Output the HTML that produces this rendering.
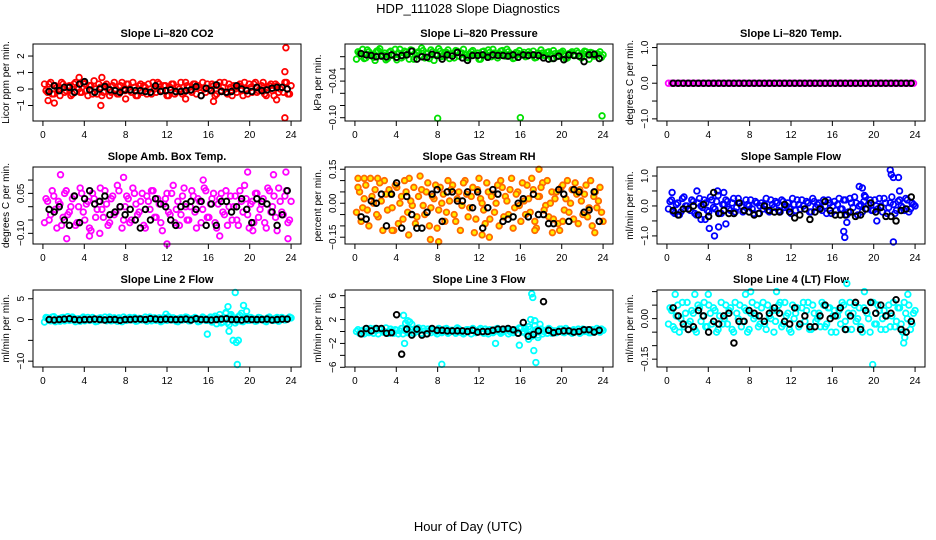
<!DOCTYPE html>
<html><head><meta charset="utf-8"><style>
body{margin:0;background:#fff;}
svg{display:block;font-family:"Liberation Sans",Arial,sans-serif;}
</style></head><body>
<svg id="chart" width="936" height="540" viewBox="0 0 936 540">
<text x="468" y="13" text-anchor="middle" font-size="13">HDP_111028  Slope Diagnostics</text>
<text x="468" y="531" text-anchor="middle" font-size="13">Hour of Day (UTC)</text>
</svg>
<script>
// ---- data ----
const co2Vals=[0.3,-0.2,0.4,-0.3,0.1,-0.4,0.3,-0.1,0.2,-0.3,0.4,0.0,-0.2,0.3,-0.4,0.2,0.5,-0.3,0.1,-0.2,0.3,-0.4,0.2,0.0,-0.3,0.4,-0.1,0.3,-0.2,0.1,-0.4,0.3,0.2,-0.3,0.0,0.4,-0.2,0.3,-0.1,0.2,-0.4,0.3,-0.3,0.1,0.4,-0.2,0.2,-0.1,0.3,-0.3,0.1,0.4,-0.2,0.0,0.3,-0.4,0.2,-0.1,0.4,-0.3,0.1,0.2,-0.2,0.3,-0.4,0.0,0.3,-0.2,0.4,-0.1,0.2,-0.3,0.1,0.3,-0.4,0.2,0.0,-0.2,0.4,-0.3];
const co2ValsB=[-0.1,0.3,-0.3,0.2,0.0,0.4,-0.2,0.1,-0.4,0.3,0.1,-0.2,0.4,-0.1,0.2,-0.3,0.0,0.3,-0.4,0.2,0.1,-0.2,0.4,-0.3,0.2,0.0,0.3,-0.1,0.4,-0.4,0.2,-0.2,0.1,0.3,-0.3,0.0,0.4,-0.1,0.2,-0.4,0.1,0.3,-0.2,0.0,-0.3,0.4,0.1,-0.2,0.3,0.2,-0.4,0.0,0.3,-0.1,0.2,-0.3,0.4,0.1,-0.2,0.3,-0.4,0.0,0.2,-0.1,0.4,-0.3,0.1,0.3,-0.2,0.0,0.4,-0.4,0.2,-0.1,0.3,-0.2,0.1,0.4,-0.3,0.2];
const co2OutX=[0.5,1.1,3.5,5.6,5.7,8.0,13.8,16.5,22.6,23.4,23.5,23.4];
const co2OutY=[-0.7,-0.85,0.7,-1.0,0.7,-0.6,-0.6,-0.75,-0.65,1.05,2.5,-1.75];
const co2Black=[-0.15,0.2,-0.1,0.1,0.1,-0.2,0.3,0.45,-0.05,-0.2,0.0,0.15,-0.05,-0.1,-0.2,-0.05,-0.05,-0.1,-0.1,-0.15,-0.2,0.2,-0.15,-0.1,-0.05,-0.15,-0.15,-0.1,-0.05,0.15,-0.4,0.05,-0.1,0.25,-0.15,-0.2,-0.15,0.2,0.0,-0.1,-0.15,0.1,-0.1,-0.05,0.05,0.1,0.1,0.0];

const presVals=[-0.004,0.006,0.012,-0.002,0.008,0.004,-0.006,0.01,0.002,0.006,-0.003,0.009,0.004,-0.005,0.012,0.001,0.007,-0.004,0.01,0.003,0.008,0.014,-0.002,0.006,0.011,-0.006,0.004,0.009,0.002,0.007,-0.003,0.005,0.01,0.001,0.006,0.003,-0.002,0.008,0.004,0.006,-0.004,0.009,0.002,0.007,0.012,0.003,0.005,0.01,0.001,0.008,0.004,-0.002,0.006,0.003,0.007,0.001,0.005,0.009,-0.001,0.004,0.006,0.002,0.008,-0.003,0.005,0.001,0.007,0.004,-0.002,0.006,0.003,0.009,0.001,0.005,0.008,-0.004,0.006,0.002,0.004,-0.001];
const presValsB=[0.008,0.001,-0.003,0.011,0.005,-0.001,0.009,0.013,0.003,-0.005,0.007,0.002,0.012,0.006,-0.002,0.009,0.004,0.011,-0.004,0.006,0.002,0.01,0.005,-0.003,0.008,0.003,0.013,0.0,0.007,0.011,0.004,-0.002,0.009,0.006,0.012,-0.001,0.005,0.01,0.003,-0.004,0.008,0.004,0.011,0.0,0.006,-0.002,0.009,0.005,0.012,0.002,-0.003,0.007,0.01,0.004,0.0,0.008,0.003,-0.002,0.006,0.011,0.002,0.007,0.004,0.01,0.0,0.006,0.009,-0.003,0.005,0.008,0.002,0.006,-0.002,0.009,0.004,0.007,0.001,0.005,0.008,0.003];
const presOutX=[8.0,16.0,23.9];
const presOutY=[-0.101,-0.100,-0.097];
const presBlack=[0.005,0.003,0.002,0.0,0.001,0.0,0.003,-0.001,0.002,0.003,0.009,-0.004,0.0,-0.001,0.004,0.002,-0.004,0.003,0.001,0.007,-0.002,-0.006,0.002,0.002,0.003,-0.001,0.003,0.002,0.002,0.001,0.003,-0.001,0.003,0.002,0.003,0.002,-0.002,-0.004,-0.003,0.001,-0.005,0.003,0.002,0.001,-0.008,0.003,0.004,-0.003];

const tempVals=[0,0,0,0,0,0,0,0,0,0,0,0,0,0,0,0,0,0,0,0,0,0,0,0,0,0,0,0,0,0,0,0,0,0,0,0,0,0,0,0,0,0,0,0,0,0,0,0,0,0,0,0,0,0,0,0,0,0,0,0,0,0,0,0,0,0,0,0,0,0,0,0,0,0,0,0,0,0,0,0];
const tempValsB=[];
const tempOutX=[];
const tempOutY=[];
const tempBlack=[0,0,0,0,0,0,0,0,0,0,0,0,0,0,0,0,0,0,0,0,0,0,0,0,0,0,0,0,0,0,0,0,0,0,0,0,0,0,0,0,0,0,0,0,0,0,0,0];

const ambVals=[-0.06,0.02,-0.03,0.04,-0.08,0.01,-0.04,0.06,-0.02,0.03,-0.07,0.0,0.05,-0.05,0.02,-0.09,0.03,-0.01,0.07,-0.04,0.01,-0.06,0.04,-0.02,0.06,-0.08,0.0,0.03,-0.05,0.05,-0.03,0.02,-0.07,0.04,-0.01,0.06,-0.04,0.01,-0.09,0.03,-0.02,0.05,-0.06,0.02,-0.03,0.07,-0.05,0.0,0.04,-0.08,0.02,-0.01,0.06,-0.04,0.03,-0.06,0.01,0.05,-0.03,-0.07,0.04,0.0,-0.05,0.06,-0.02,0.03,-0.08,0.02,0.05,-0.04,0.01,-0.06,0.07,-0.02,0.04,-0.09,0.02,-0.03,0.06,-0.05];
const ambValsB=[0.03,-0.05,0.06,-0.01,0.02,-0.07,0.05,-0.03,0.0,0.04,-0.06,0.07,-0.02,0.01,-0.08,0.05,-0.04,0.02,-0.01,0.06,-0.07,0.03,-0.03,0.08,0.0,-0.05,0.04,-0.06,0.07,0.01,-0.02,0.05,-0.08,0.02,0.06,-0.04,0.03,-0.06,0.01,0.05,-0.03,0.08,-0.01,-0.07,0.04,0.0,-0.05,0.06,-0.02,0.03,-0.06,0.07,-0.04,0.01,0.05,-0.08,0.03,-0.02,0.06,0.0,-0.05,0.04,-0.07,0.02,0.08,-0.03,0.01,-0.06,0.05,-0.01,0.03,-0.08,0.06,0.0,-0.04,0.07,-0.02,0.04,-0.06,0.02];
const ambOutX=[1.7,2.3,4.5,5.5,7.8,12.0,15.5,17.1,19.8,20.3,22.3,23.5,23.7];
const ambOutY=[0.12,-0.12,-0.11,-0.1,0.11,-0.14,0.1,-0.11,0.13,-0.09,0.12,0.13,-0.12];
const ambBlack=[-0.01,-0.02,0.0,-0.05,-0.07,0.04,-0.06,0.03,0.06,0.01,0.02,0.04,-0.03,-0.02,0.0,-0.03,-0.01,-0.05,-0.08,-0.01,-0.05,0.03,0.01,0.0,-0.05,-0.07,0.0,0.01,0.02,-0.01,0.02,-0.07,0.01,-0.07,0.02,0.02,-0.02,0.0,0.03,-0.01,-0.06,0.03,0.02,0.01,-0.02,-0.07,-0.03,0.06];

const rhVals=[-0.04,0.05,-0.02,0.08,-0.1,0.03,0.06,-0.06,0.01,0.1,-0.03,0.04,-0.12,0.07,0.0,-0.07,0.05,0.11,-0.01,-0.09,0.03,0.06,-0.05,0.09,-0.02,0.02,-0.11,0.07,0.04,-0.04,0.01,0.08,-0.08,0.05,-0.01,0.1,-0.06,0.03,-0.13,0.06,0.02,-0.03,0.09,-0.07,0.04,0.0,-0.1,0.07,0.03,-0.05,0.11,-0.02,0.05,-0.08,0.01,0.08,-0.04,0.06,-0.11,0.03,0.09,-0.01,-0.06,0.05,0.02,-0.09,0.07,-0.03,0.1,0.0,-0.07,0.04,0.06,-0.05,0.08,-0.02,-0.1,0.05,0.01,-0.04];
const rhValsB=[0.07,-0.08,0.02,-0.03,0.11,0.0,-0.05,0.09,-0.12,0.04,0.06,-0.02,0.08,-0.09,0.03,0.1,-0.04,0.01,0.07,-0.06,0.12,-0.01,0.05,-0.1,0.03,0.08,-0.03,0.0,-0.08,0.1,0.06,-0.05,0.02,-0.12,0.09,0.04,-0.02,0.07,-0.07,0.11,0.0,-0.09,0.05,0.03,-0.04,0.08,0.1,-0.06,0.01,0.06,-0.11,0.04,-0.01,0.09,-0.05,0.02,0.11,-0.08,0.03,0.07,-0.03,0.1,0.0,-0.07,0.05,-0.12,0.08,0.02,-0.04,0.06,0.09,-0.09,0.01,0.04,-0.06,0.1,0.03,-0.02,0.07,-0.08];
const rhOutX=[0.3,0.9,2.2,3.6,5.2,7.3,8.1,13.0,12.3,17.4,17.8,19.1,20.1,23.2];
const rhOutY=[0.11,0.11,0.11,-0.12,-0.14,-0.16,-0.17,-0.15,-0.14,-0.12,0.15,-0.13,-0.08,-0.13];
const rhBlack=[-0.06,-0.07,0.01,0.0,0.04,-0.1,0.04,0.09,-0.11,0.03,-0.05,-0.11,-0.11,-0.04,0.04,0.06,-0.08,0.05,0.05,0.01,0.01,0.05,-0.02,0.05,-0.11,-0.02,0.06,0.04,-0.08,-0.07,-0.06,0.0,0.02,-0.06,0.04,-0.05,-0.05,-0.09,-0.09,0.06,0.04,-0.08,0.06,0.05,-0.04,-0.03,0.05,-0.08];

const sfVals=[-0.1,0.2,-0.25,0.1,-0.2,0.3,0.0,-0.15,0.15,-0.3,0.25,-0.05,0.1,-0.2,0.2,-0.1,0.35,-0.25,0.05,0.15,-0.15,0.25,-0.05,0.1,-0.2,0.2,0.0,-0.1,0.15,-0.25,0.1,0.05,-0.15,0.2,-0.05,0.1,-0.2,0.15,0.0,-0.1,0.25,-0.15,0.05,0.2,-0.1,0.1,-0.2,0.15,0.05,-0.05,0.2,-0.25,0.1,0.0,-0.15,0.25,-0.1,0.2,-0.2,0.1,0.3,-0.3,0.05,0.15,-0.1,0.2,-0.15,0.0,0.25,-0.2,0.1,-0.05,0.3,-0.25,0.15,0.0,-0.15,0.2,-0.1,0.05];
const sfValsB=[0.15,-0.2,0.05,-0.3,0.25,0.0,-0.1,0.2,-0.25,0.1,0.0,0.2,-0.15,0.3,-0.05,0.15,-0.25,0.05,0.2,-0.1,0.1,-0.2,0.25,0.0,-0.15,0.05,0.2,-0.25,0.1,0.0,-0.1,0.25,-0.2,0.05,0.15,-0.15,0.2,-0.05,0.1,-0.25,0.05,0.2,-0.1,0.0,0.15,-0.2,0.25,-0.05,0.1,-0.15,0.0,0.2,-0.25,0.15,0.05,-0.1,0.2,-0.3,0.25,-0.05,0.1,0.0,-0.2,0.3,0.05,-0.15,0.2,-0.1,0.0,0.25,-0.25,0.1,0.05,-0.15,0.2,-0.05,0.25,-0.2,0.1,0.0];
const sfOutX=[0.5,2.9,3.3,3.7,4.1,4.6,4.9,5.0,5.5,5.7,17.1,17.2,17.4,18.6,18.9,19.1,21.6,21.7,21.9,21.9,22.4,22.5,20.3];
const sfOutY=[0.45,0.5,-0.45,-0.45,-0.75,-1.0,0.5,-0.7,0.45,-0.6,-0.85,-1.05,-0.55,0.65,0.6,0.35,1.2,1.05,0.95,-1.2,0.95,0.5,-0.5];
const sfBlack=[-0.15,-0.3,-0.1,-0.1,0.0,-0.3,0.05,-0.35,0.45,-0.25,-0.15,-0.25,-0.25,0.1,-0.15,-0.2,-0.3,-0.25,0.0,-0.15,-0.2,-0.2,0.05,-0.2,-0.4,-0.3,-0.1,-0.45,-0.2,-0.1,0.15,-0.15,-0.3,-0.3,-0.3,-0.2,-0.35,-0.3,-0.1,0.1,-0.2,-0.05,-0.35,-0.35,-0.5,-0.15,-0.1,0.3];

const l2Vals=[-0.6,0.4,-0.3,0.7,0.1,-0.4,0.5,0.0,-0.2,0.6,-0.5,0.2,0.3,-0.3,0.5,-0.1,0.1,-0.4,0.4,0.0,-0.3,0.6,-0.2,0.2,0.4,-0.5,0.1,0.3,-0.1,0.5,-0.3,0.2,0.0,-0.4,0.6,0.1,-0.2,0.4,-0.3,0.3,0.7,-0.1,0.2,-0.5,0.4,0.0,0.5,-0.3,0.1,0.3,-0.4,0.6,-0.2,0.2,-0.6,0.8,0.4,-0.8,0.2,-0.7,0.9,0.1,-0.3,1.0,-0.5,0.6,-0.2,0.3,-0.4,0.5,0.0,-0.3,0.4,0.1,-0.2,0.5,-0.1,0.3,0.0,0.6];
const l2ValsB=[0.5,-0.2,0.6,-0.5,0.2,0.4,-0.3,0.7,-0.1,0.3,0.1,-0.4,0.6,0.0,-0.2,0.5,-0.5,0.3,-0.1,0.6,0.2,-0.3,0.4,-0.4,0.0,0.6,-0.2,0.5,0.1,-0.4,0.3,-0.1,0.6,0.2,-0.3,0.4,0.0,-0.5,0.5,-0.2,0.1,0.4,-0.4,0.3,-0.1,0.6,-0.3,0.2,0.5,-0.5,0.0,0.3,-0.2,0.6,0.4,-1.0,1.2,-0.6,1.5,-1.2,0.5,-0.8,0.7,-0.4,0.3,-0.2,0.5,0.0,-0.3,0.4,0.1,-0.5,0.6,-0.2,0.3,-0.4,0.5,-0.1,0.2,0.4];
const l2OutX=[11.9,15.9,17.7,17.9,18.0,18.2,18.4,18.6,18.7,18.8,18.9,19.2,19.4,19.7];
const l2OutY=[1.3,-3.5,1.7,3.1,-2.8,1.2,-5.0,6.5,-5.5,-10.8,-5.0,1.5,3.4,2.0];
const l2Black=[0.0,-0.1,0.0,0.1,0.2,0.0,-0.1,0.0,0.0,0.1,0.0,-0.1,0.0,0.0,-0.2,0.0,0.0,0.1,0.1,0.0,0.2,0.1,0.0,0.1,0.0,0.0,0.0,0.1,-0.1,0.2,0.0,0.0,-0.1,0.0,0.1,0.2,0.0,0.0,-0.1,0.1,0.0,0.0,0.0,0.1,-0.1,0.0,0.1,0.1];

const l3Vals=[0.0,-0.3,0.2,0.4,-0.2,0.1,0.5,-0.4,0.3,0.0,-0.1,0.4,-0.3,0.2,0.1,-0.4,0.5,0.0,-0.2,0.3,0.6,-0.3,0.1,0.4,-0.2,0.2,-0.4,0.3,0.0,0.5,-0.1,0.2,-0.3,0.4,0.1,-0.2,0.3,-0.4,0.2,0.0,0.5,-0.3,0.1,0.3,-0.2,0.4,0.0,-0.1,0.3,-0.4,0.2,0.1,-0.3,0.5,0.0,-0.6,0.4,-0.2,0.3,0.1,-0.4,0.2,0.5,-0.3,0.1,0.0,0.4,-0.2,0.2,-0.1,0.3,0.0,-0.3,0.4,0.1,-0.2,0.3,0.0,0.2,0.4];
const l3ValsB=[0.3,0.1,-0.4,0.0,0.5,-0.3,0.2,0.4,-0.1,0.6,-0.3,0.1,0.3,-0.4,0.5,0.2,-0.2,0.4,-0.3,0.0,0.2,0.5,-0.4,0.1,0.3,-0.1,0.5,-0.2,0.4,-0.3,0.2,0.0,0.6,-0.1,-0.4,0.3,0.1,0.5,-0.2,0.3,-0.1,0.4,-0.4,0.2,0.0,0.5,-0.3,0.1,0.4,0.0,-0.2,0.3,0.6,-0.1,0.4,0.8,-0.8,1.0,-0.6,0.4,0.0,-0.3,0.3,0.1,-0.2,0.4,-0.1,0.5,0.0,-0.3,0.2,0.4,-0.1,0.0,0.3,-0.2,0.1,0.5,-0.1,0.2];
const l3OutX=[4.7,4.8,4.9,5.1,5.3,5.5,8.4,13.6,15.9,16.5,16.8,17.0,17.1,17.2,17.3,17.4,17.5,17.7,17.9];
const l3OutY=[2.7,-2.0,1.4,1.8,1.6,1.2,-5.5,-2.0,-2.3,0.5,-1.3,2.0,6.3,5.7,-3.2,1.8,-5.2,-1.0,1.2];
const l3Black=[-0.4,0.5,0.1,0.5,0.5,-0.3,-0.2,2.8,-3.8,0.4,-0.6,0.4,-0.6,-0.4,0.5,0.2,0.2,0.1,0.1,0.1,0.1,0.0,0.2,-0.1,0.0,0.0,0.2,0.4,0.4,0.5,0.3,-0.3,1.5,-0.8,-0.5,0.1,5.0,0.2,-0.2,0.0,0.1,0.1,-0.1,0.0,0.3,0.3,-0.1,0.2];

const l4Vals=[-0.02,0.03,-0.04,0.05,0.0,-0.03,0.06,-0.01,0.02,-0.05,0.04,0.01,-0.03,0.05,-0.02,0.03,-0.04,0.06,0.0,-0.02,0.04,-0.05,0.02,0.05,-0.01,0.03,-0.04,0.06,0.01,-0.03,0.04,-0.02,0.05,0.0,-0.05,0.03,0.06,-0.02,0.01,-0.04,0.05,0.02,-0.03,0.04,-0.01,0.06,-0.04,0.02,0.0,-0.03,0.05,-0.02,0.04,0.01,-0.05,0.03,0.06,-0.01,0.02,-0.04,0.05,0.0,-0.03,0.04,0.02,-0.05,0.06,-0.02,0.03,0.0,-0.04,0.05,0.01,-0.03,0.04,-0.02,0.06,0.0,-0.04,0.02];
const l4ValsB=[0.04,-0.03,0.01,-0.05,0.06,0.02,-0.02,0.03,-0.04,0.05,-0.01,0.06,-0.03,0.02,0.04,-0.05,0.01,-0.02,0.05,0.03,-0.04,0.06,0.0,-0.03,0.04,-0.05,0.02,0.0,0.05,-0.02,0.06,-0.04,0.01,0.03,-0.01,0.05,-0.03,0.06,0.02,-0.05,0.0,0.04,-0.02,0.06,0.03,-0.04,0.05,-0.01,0.02,0.06,-0.03,0.04,-0.05,0.03,0.01,-0.02,0.05,-0.04,0.06,0.02,-0.01,0.04,-0.05,0.03,0.0,0.06,-0.02,0.05,-0.04,0.03,0.01,-0.03,0.06,-0.01,0.04,-0.05,0.02,0.05,-0.02,0.03];
const l4OutX=[0.8,2.7,4.0,7.6,8.1,10.6,17.4,19.1,19.9,22.9,23.0,23.3];
const l4OutY=[0.09,0.09,0.09,0.09,0.1,0.1,0.13,0.1,-0.17,-0.09,-0.07,0.09];
const l4Black=[0.04,0.01,-0.02,-0.04,-0.03,0.03,0.01,-0.05,-0.01,-0.02,0.01,0.02,-0.09,-0.01,-0.01,0.03,0.02,0.01,-0.01,0.02,0.04,0.02,-0.01,-0.02,0.04,-0.02,0.01,-0.03,-0.03,0.01,0.05,0.0,0.01,0.04,-0.04,0.01,0.06,-0.04,0.03,0.06,0.02,0.05,0.01,0.02,0.07,-0.04,-0.05,-0.01];

const xTicks=[0,4,8,12,16,20,24];

// ---- panels ----
const NS="http://www.w3.org/2000/svg";
const svg=document.getElementById('chart');
function mk(tag,attrs,parent){const e=document.createElementNS(NS,tag);for(const k in attrs)e.setAttribute(k,attrs[k]);parent.appendChild(e);return e;}

const panels=[
 {slug:'co2',title:'Slope Li-820 CO2',ylab:'Licor ppm per min.',col:'#ff0000',vals:co2Vals,valsB:co2ValsB,ox:co2OutX,oy:co2OutY,blk:co2Black,ymin:-1.94,ymax:2.73,ticks:[-1,0,1,2],labels:[-1,0,1,2],fmt:0},
 {slug:'pressure',title:'Slope Li-820 Pressure',ylab:'kPa per min.',col:'#00e000',vals:presVals,valsB:presValsB,ox:presOutX,oy:presOutY,blk:presBlack,ymin:-0.1054,ymax:0.0208,ticks:[0,-0.02,-0.04,-0.06,-0.08,-0.1],labels:[-0.04,-0.1],fmt:2},
 {slug:'temp',title:'Slope Li-820 Temp.',ylab:'degrees C per min.',col:'#ff00ff',vals:tempVals,valsB:tempValsB,ox:tempOutX,oy:tempOutY,blk:tempBlack,ymin:-1.06,ymax:1.10,ticks:[-1,-0.5,0,0.5,1],labels:[-1,0,1],fmt:1},
 {slug:'amb-box-temp',title:'Slope Amb. Box Temp.',ylab:'degrees C per min.',col:'#ff00ff',vals:ambVals,valsB:ambValsB,ox:ambOutX,oy:ambOutY,blk:ambBlack,ymin:-0.14,ymax:0.149,ticks:[0.1,0.05,0,-0.05,-0.1],labels:[0.05,-0.1],fmt:2},
 {slug:'gas-rh',title:'Slope Gas Stream RH',ylab:'percent per min.',col:'#ff6a00',vals:rhVals,valsB:rhValsB,ox:rhOutX,oy:rhOutY,blk:rhBlack,ymin:-0.18,ymax:0.16,ticks:[0.15,0.1,0.05,0,-0.05,-0.1,-0.15],labels:[0.15,0,-0.15],fmt:2},
 {slug:'sample-flow',title:'Slope Sample Flow',ylab:'ml/min per min.',col:'#0000ff',vals:sfVals,valsB:sfValsB,ox:sfOutX,oy:sfOutY,blk:sfBlack,ymin:-1.27,ymax:1.3,ticks:[1,0.5,0,-0.5,-1],labels:[1,0,-1],fmt:1},
 {slug:'line2-flow',title:'Slope Line 2 Flow',ylab:'ml/min per min.',col:'#00ffff',vals:l2Vals,valsB:l2ValsB,ox:l2OutX,oy:l2OutY,blk:l2Black,ymin:-11.4,ymax:7.1,ticks:[5,0,-5,-10],labels:[5,0,-10],fmt:0},
 {slug:'line3-flow',title:'Slope Line 3 Flow',ylab:'ml/min per min.',col:'#00ffff',vals:l3Vals,valsB:l3ValsB,ox:l3OutX,oy:l3OutY,blk:l3Black,ymin:-5.95,ymax:6.95,ticks:[6,4,2,0,-2,-4,-6],labels:[6,2,-2,-6],fmt:0},
 {slug:'line4-flow',title:'Slope Line 4 (LT) Flow',ylab:'ml/min per min.',col:'#00ffff',vals:l4Vals,valsB:l4ValsB,ox:l4OutX,oy:l4OutY,blk:l4Black,ymin:-0.179,ymax:0.106,ticks:[0.1,0.05,0,-0.05,-0.1,-0.15],labels:[0,-0.15],fmt:2}
];
const colLeft=[33,345,657], rowTop=[44,167,290], W=268, H=77;

panels.forEach((p,i)=>{
  const L=colLeft[i%3], T=rowTop[Math.floor(i/3)];
  const g=mk('g',{},svg);
  
  
  const xs=h=>L+(h+0.96)/25.92*W;
  const ys=v=>T+(p.ymax-v)/(p.ymax-p.ymin)*H;
  const t=mk('text',{x:L+W/2,y:T-7,'text-anchor':'middle','font-size':11,'font-weight':'bold'},g);
  t.textContent=p.title.replace(/-/g,'\u2013');
  
  
  const mg=mk('g',{fill:'none'},g);
  
  
  const fillCol = p.slug==='gas-rh' ? '#ffee00' : 'none';
  p.vals.forEach((v,j)=>{
    const c=mk('circle',{cx:xs(0.15+j*0.3),cy:ys(v),r:2.8,stroke:p.col,'stroke-width':1.8,fill:fillCol},mg);
    
    
  });
  p.valsB.forEach((v,j)=>{
    const c=mk('circle',{cx:xs(0.3+j*0.3),cy:ys(v),r:2.8,stroke:p.col,'stroke-width':1.8,fill:fillCol},mg);
    
    
  });
  p.ox.forEach((x,j)=>{
    const c=mk('circle',{cx:xs(x),cy:ys(p.oy[j]),r:2.8,stroke:p.col,'stroke-width':1.8,fill:fillCol},mg);
    
    
  });
  const bg=mk('g',{fill:'none'},g);
  
  
  p.blk.forEach((v,j)=>{
    const c=mk('circle',{cx:xs(0.6+j*0.49),cy:ys(v),r:2.8,stroke:'#000','stroke-width':1.9},bg);
    
    
  });
  const b=mk('rect',{x:L,y:T,width:W,height:H,fill:'none',stroke:'#000','stroke-width':1},g);
  
  
  const xa=mk('g',{},g);
  
  
  xTicks.forEach(h=>{
    mk('line',{x1:xs(h),x2:xs(h),y1:T+H,y2:T+H+5,stroke:'#000'},xa);
    const tx=mk('text',{x:xs(h),y:T+H+17,'text-anchor':'middle','font-size':10},xa);
    tx.textContent=h;
    
    
  });
  const ya=mk('g',{},g);
  
  
  p.ticks.forEach(v=>{mk('line',{x1:L-5,x2:L,y1:ys(v),y2:ys(v),stroke:'#000'},ya);});
  p.labels.forEach(v=>{
    const yy=ys(v), xx=L-9;
    const tx=mk('text',{x:xx,y:yy,'text-anchor':'middle','font-size':10,transform:`rotate(-90 ${xx} ${yy})`},ya);
    tx.textContent=(v<0?'\u2212':'')+Math.abs(v).toFixed(p.fmt);
    
    
  });
  const yx=L-24, yy=T+H/2;
  const yt=mk('text',{x:yx,y:yy,'text-anchor':'middle','font-size':10,transform:`rotate(-90 ${yx} ${yy})`},g);
  yt.textContent=p.ylab;
  
  
});
</script>
</body></html>
